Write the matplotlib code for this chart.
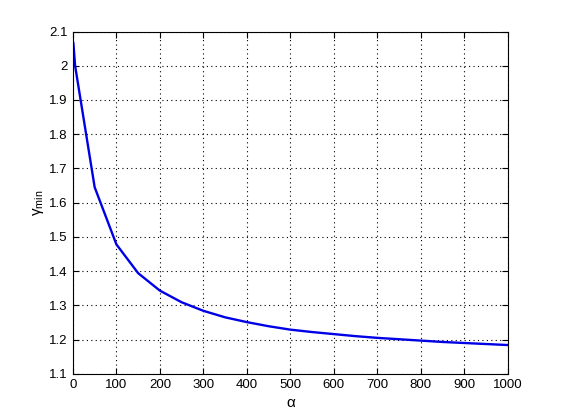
import matplotlib
matplotlib.use("Agg")
import matplotlib.pyplot as plt

alpha = [1, 5, 50, 100, 150, 200, 250, 300, 350, 400, 450, 500, 550, 600,
         650, 700, 750, 800, 850, 900, 950, 1000]
gamma_min = [2.066, 2.0, 1.645, 1.478, 1.394, 1.343, 1.309, 1.284, 1.265,
             1.251, 1.239, 1.229, 1.222, 1.216, 1.210, 1.205, 1.201, 1.197,
             1.193, 1.190, 1.187, 1.184]
xticks = [0, 100, 200, 300, 400, 500, 600, 700, 800, 900, 1000]
yticks = [1.1, 1.2, 1.3, 1.4, 1.5, 1.6, 1.7, 1.8, 1.9, 2.0, 2.1]
ytick_labels = ["1.1", "1.2", "1.3", "1.4", "1.5", "1.6", "1.7", "1.8", "1.9", "2", "2.1"]

plt.rcParams['font.family'] = ['Liberation Sans', 'DejaVu Sans']
plt.rcParams['mathtext.fontset'] = 'custom'
plt.rcParams['mathtext.rm'] = 'Liberation Sans'
fig = plt.figure(figsize=(5.61, 4.2), dpi=100)
ax = fig.add_axes([0.13, 0.11, 0.775, 0.815])
ax.plot(alpha, gamma_min, color=(0, 0, 0.9), linewidth=1.7)
ax.set_xlim(0, 1000)
ax.set_ylim(1.1, 2.1)
ax.set_xticks(xticks)
ax.set_xticklabels([str(t) for t in xticks])
ax.set_yticks(yticks)
ax.set_yticklabels(ytick_labels)
ax.grid(True, linestyle=(0, (1, 3)), color='black', linewidth=0.8)
ax.tick_params(direction='in', length=4, width=0.8, top=True, right=True,
               labelsize=9.5, pad=4)
for s in ax.spines.values():
    s.set_linewidth(0.8)
ax.set_xlabel('α', fontsize=11, labelpad=3)
ax.set_ylabel(r'γ$_{\mathrm{min}}$', fontsize=11, labelpad=2)
fig.savefig("out.png", dpi=100)
